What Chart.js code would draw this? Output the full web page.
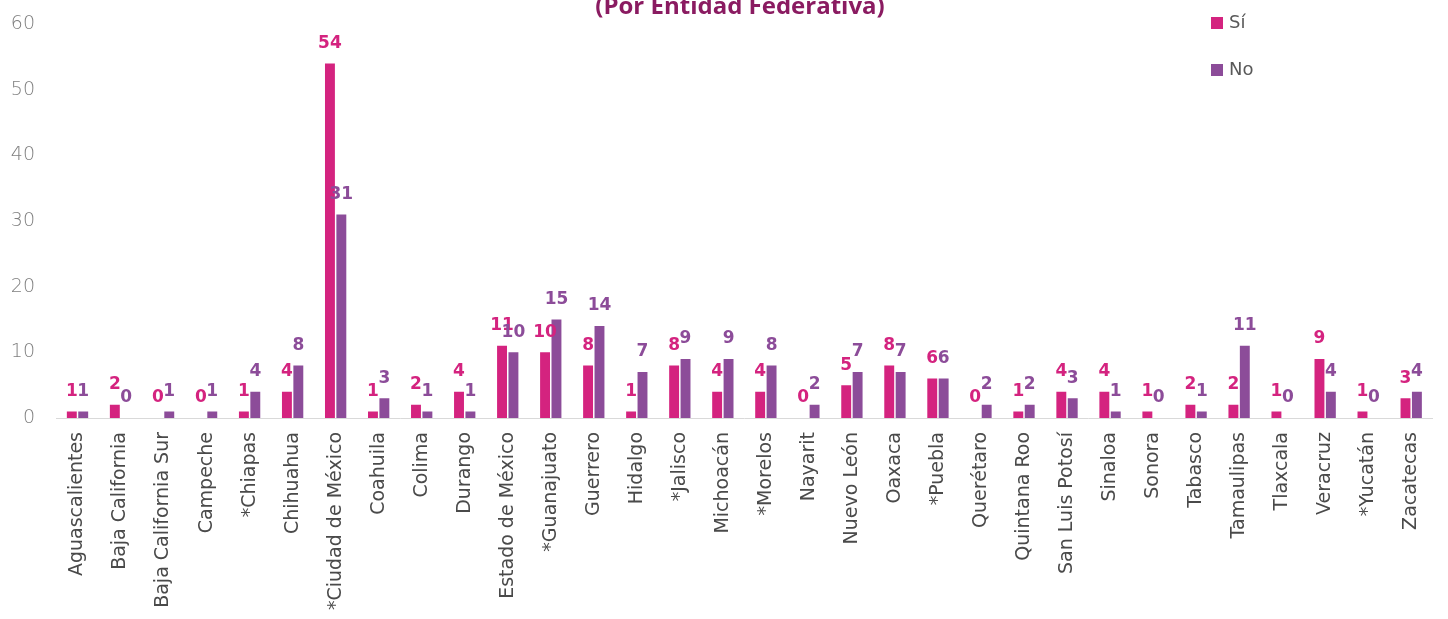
<!DOCTYPE html>
<html>
<head>
<meta charset="utf-8">
<script src="https://cdn.jsdelivr.net/npm/chart.js@4.4.1/dist/chart.umd.min.js"></script>
<style>
  html, body { margin: 0; padding: 0; background: #fff; overflow: hidden; }
  #wrap { position: relative; width: 1448px; height: 619px; }
</style>
</head>
<body>
<div id="wrap"><canvas id="chart" width="1448" height="619"></canvas></div>
<script>
// categories + series
const estados = ['Aguascalientes', 'Baja California', 'Baja California Sur', 'Campeche', '*Chiapas', 'Chihuahua',
  '*Ciudad de México', 'Coahuila', 'Colima', 'Durango', 'Estado de México', '*Guanajuato', 'Guerrero', 'Hidalgo',
  '*Jalisco', 'Michoacán', '*Morelos', 'Nayarit', 'Nuevo León', 'Oaxaca', '*Puebla', 'Querétaro', 'Quintana Roo',
  'San Luis Potosí', 'Sinaloa', 'Sonora', 'Tabasco', 'Tamaulipas', 'Tlaxcala', 'Veracruz', '*Yucatán', 'Zacatecas'];
const si = [1, 2, 0, 0, 1, 4, 54, 1, 2, 4, 11, 10, 8, 1, 8, 4, 4, 0, 5, 8, 6, 0, 1, 4, 4, 1, 2, 2, 1, 9, 1, 3];
const no = [1, 0, 1, 1, 4, 8, 31, 3, 1, 1, 10, 15, 14, 7, 9, 9, 8, 2, 7, 7, 6, 2, 2, 3, 1, 0, 1, 11, 0, 4, 0, 4];
const yTicks = [0, 10, 20, 30, 40, 50, 60];

const PINK = '#D4237F';
const PURPLE = '#8C4C99';
const TITLE = '(Por Entidad Federativa)';

// value labels above each bar, same colour as the bar
const valueLabels = {
  id: 'valueLabels',
  afterDatasetsDraw(chart) {
    const ctx = chart.ctx;
    ctx.save();
    ctx.font = 'bold 17px "DejaVu Sans", sans-serif';
    ctx.textAlign = 'center';
    ctx.textBaseline = 'middle';
    chart.data.datasets.forEach((ds, i) => {
      ctx.fillStyle = ds.backgroundColor;
      chart.getDatasetMeta(i).data.forEach((el, j) => {
        ctx.fillText(String(ds.data[j]), el.x, el.y - 20);
      });
    });
    ctx.restore();
  }
};

// cut-off title + vertical legend at top right
const decor = {
  id: 'decor',
  afterDraw(chart) {
    const ctx = chart.ctx;
    ctx.save();
    ctx.fillStyle = '#8A1B61';
    ctx.font = 'bold 24px "Open Sans", sans-serif';
    ctx.textAlign = 'center';
    ctx.textBaseline = 'alphabetic';
    ctx.fillText(TITLE, 740, 14);

    ctx.font = '18px "DejaVu Sans", sans-serif';
    ctx.textAlign = 'left';
    ctx.textBaseline = 'middle';
    chart.data.datasets.forEach((ds, i) => {
      const y = 23 + i * 47;
      ctx.fillStyle = ds.backgroundColor;
      ctx.fillRect(1211, y - 6, 12, 12);
      ctx.fillStyle = '#595959';
      ctx.fillText(ds.label, 1229, y);
    });
    ctx.restore();
  }
};

new Chart(document.getElementById('chart'), {
  type: 'bar',
  data: {
    labels: estados,
    datasets: [
      { label: 'Sí', data: si, backgroundColor: PINK },
      { label: 'No', data: no, backgroundColor: PURPLE }
    ]
  },
  options: {
    responsive: false,
    animation: false,
    devicePixelRatio: 1,
    layout: { padding: { top: 24, right: 0, left: 0, bottom: 0 } },
    datasets: { bar: { categoryPercentage: 0.53, barPercentage: 0.87 } },
    plugins: {
      legend: { display: false },
      title: { display: false },
      tooltip: { enabled: false }
    },
    scales: {
      x: {
        grid: { display: false, drawTicks: false },
        border: { display: true, color: '#D9D9D9', width: 1 },
        ticks: {
          autoSkip: false,
          minRotation: 90,
          maxRotation: 90,
          padding: 14,
          color: '#4A4A4A',
          font: { family: '"DejaVu Sans", sans-serif', size: 19 }
        },
        afterFit(scale) { scale.height = 201; }
      },
      y: {
        min: 0,
        max: 60,
        grid: { display: false, drawTicks: false },
        border: { display: false },
        afterBuildTicks(scale) { scale.ticks = yTicks.map(v => ({ value: v })); },
        ticks: {
          padding: 21,
          color: '#7F7F7F',
          font: { family: '"DejaVu Sans", sans-serif', size: 19, weight: 200 }
        },
        afterFit(scale) {
          scale.width = 56;
          // tick padding is only meant horizontally here
          scale.paddingTop = 12;
          scale.paddingBottom = 12;
        }
      }
    }
  },
  plugins: [valueLabels, decor]
});
</script>
</body>
</html>
